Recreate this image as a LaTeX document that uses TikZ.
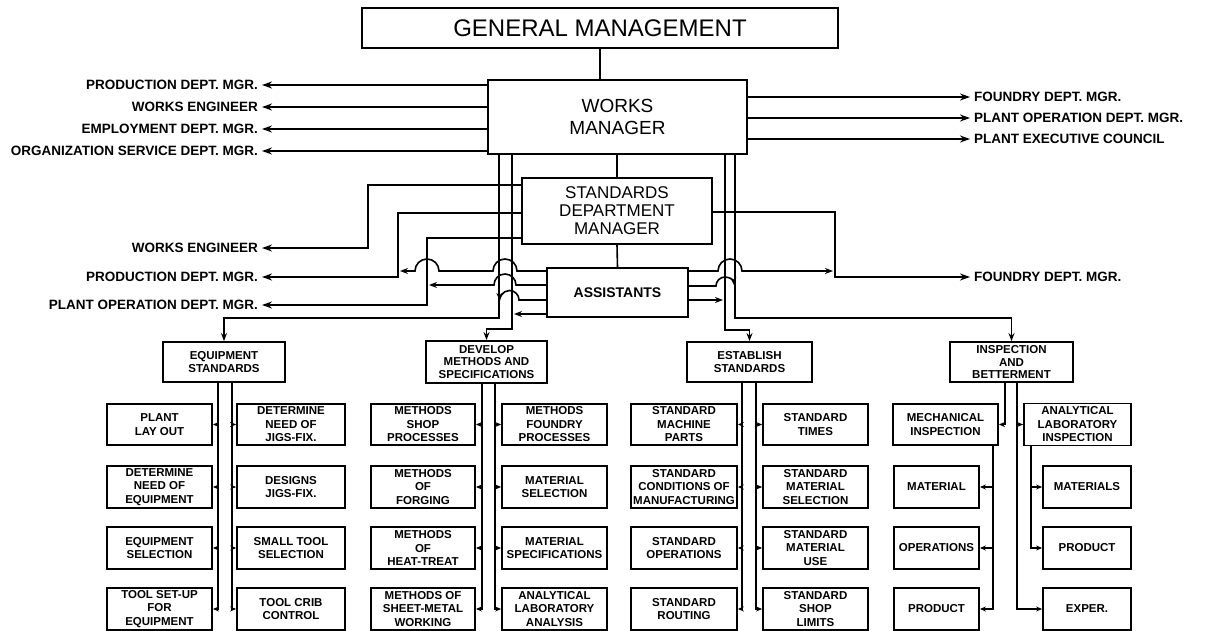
\documentclass[tikz,border=0pt]{standalone}
\usepackage{fontspec}
\setmainfont{Liberation Sans}
\usetikzlibrary{arrows.meta}
\begin{document}
\begin{tikzpicture}[x=1pt,y=1pt,
 box/.style={draw,line width=1.8pt,inner sep=0pt,align=center},
 sbox/.style={box,font=\fontsize{11.5}{13.5}\selectfont\bfseries},
 gbox/.style={box,font=\fontsize{11.5}{12.5}\selectfont\bfseries},
 conn/.style={line width=1.6pt},
 bigarr/.style={-{Stealth[length=10pt,width=7pt]}},
 midarr/.style={-{Stealth[length=8pt,width=6pt]}},
 arr/.style={-{Stealth[length=6pt,width=5pt]}},
 lab/.style={inner sep=0pt,inner xsep=4pt,font=\fontsize{13.5}{15}\selectfont\bfseries},
]
\useasboundingbox (0,0) rectangle (1213,-631);

% top boxes
\node[box,minimum width=476pt,minimum height=40pt,font=\fontsize{24}{26}\selectfont] (gm) at (600,-28) {GENERAL MANAGEMENT};
\node[box,minimum width=259pt,minimum height=74pt,font=\fontsize{19}{22}\selectfont] (wm) at (617.5,-117) {WORKS\\MANAGER};
\node[box,minimum width=190pt,minimum height=66pt,font=\fontsize{17}{18}\selectfont] (sdm) at (617,-211) {STANDARDS\\DEPARTMENT\\MANAGER};
\node[box,minimum width=141pt,minimum height=49pt,font=\fontsize{14}{16}\selectfont\bfseries] (asst) at (617.5,-292.5) {ASSISTANTS};

\draw[conn] (gm.south) -- (gm.south |- wm.north);
\draw[conn] (sdm.north) -- (sdm.north |- wm.south);
\draw[conn] (sdm.south) -- (asst.north);

% works manager side labels
\node[lab,anchor=east] (pd1) at (262,-85) {PRODUCTION DEPT. MGR.};
\node[lab,anchor=east] (we1) at (262,-107) {WORKS ENGINEER};
\node[lab,anchor=east] (em1) at (262,-129) {EMPLOYMENT DEPT. MGR.};
\node[lab,anchor=east] (os1) at (262,-151) {ORGANIZATION SERVICE DEPT. MGR.};
\node[lab,anchor=west] (fd1) at (970,-97) {FOUNDRY DEPT. MGR.};
\node[lab,anchor=west] (po1) at (970,-118) {PLANT OPERATION DEPT. MGR.};
\node[lab,anchor=west] (pe1) at (970,-139) {PLANT EXECUTIVE COUNCIL};
\foreach \n in {pd1,we1,em1,os1} \draw[conn,bigarr] (wm.west |- \n) -- (\n.east);
\foreach \n in {fd1,po1,pe1} \draw[conn,bigarr] (wm.east |- \n) -- (\n.west);

% standards dept side labels
\node[lab,anchor=east] (we2) at (262,-248) {WORKS ENGINEER};
\node[lab,anchor=east] (pd2) at (262,-277) {PRODUCTION DEPT. MGR.};
\node[lab,anchor=east] (po2) at (262,-305) {PLANT OPERATION DEPT. MGR.};
\node[lab,anchor=west] (fd2) at (970,-277) {FOUNDRY DEPT. MGR.};
\draw[conn,bigarr] ([yshift=26pt]sdm.west) -| (368,-248) -- (we2.east);
\draw[conn,bigarr] ([yshift=-2pt]sdm.west) -| (398,-277) -- (pd2.east);
\draw[conn,bigarr] ([yshift=-27pt]sdm.west) -| (427,-305) -- (po2.east);
\draw[conn,bigarr] ([yshift=-1pt]sdm.east) -| (835,-277) -- (fd2.west);

% group boxes
\node[gbox,minimum width=122pt,minimum height=40pt] (eq) at (224,-362) {EQUIPMENT\\STANDARDS};
\node[gbox,minimum width=121pt,minimum height=42pt] (dev) at (486.5,-362) {DEVELOP\\METHODS AND\\SPECIFICATIONS};
\node[gbox,minimum width=125pt,minimum height=40pt] (est) at (749.5,-362) {ESTABLISH\\STANDARDS};
\node[gbox,minimum width=123pt,minimum height=40pt] (insp) at (1011.5,-362) {INSPECTION\\AND\\BETTERMENT};

% vertical lines from works manager
\coordinate (v1) at ([xshift=-118.5pt]wm.south);
\coordinate (v2) at ([xshift=-105.5pt]wm.south);
\coordinate (v3) at ([xshift=107.5pt]wm.south);
\coordinate (v4) at ([xshift=117.5pt]wm.south);
\draw[conn,midarr] (v1) |- ([yshift=23pt]eq.north) -- (eq.north);
\draw[conn,midarr] (v2) |- ([yshift=11pt]dev.north) -- (dev.north);
\draw[conn,midarr] (v3) |- ([yshift=11pt]est.north) -- (est.north);
\draw[conn,midarr] (v4) |- ([yshift=23pt]insp.north) -- (insp.north);

% assistants lines (left)
\draw[conn,midarr] ([yshift=21.5pt]asst.west) -- (517,-271) arc[start angle=0,end angle=180,radius=12pt] -- (439,-271) arc[start angle=0,end angle=180,radius=12pt] -- (400,-271);
\draw[conn,midarr] ([yshift=7.5pt]asst.west) -- (516,-285) arc[start angle=0,end angle=180,radius=11pt] -- (429,-285);
\draw[conn,midarr] ([yshift=-7.5pt]asst.west) -- (519,-300) arc[start angle=0,end angle=185,radius=9.5pt];
\draw[conn,midarr] ([yshift=-21.5pt]asst.west) -- (514,-314);
% assistants lines (right)
\draw[conn,midarr] ([yshift=21.5pt]asst.east) -- (718,-271) arc[start angle=180,end angle=0,radius=12pt] -- (833,-271);
\draw[conn,midarr] ([yshift=6.5pt]asst.east) -- (716,-286) arc[start angle=180,end angle=5,radius=9pt];
\draw[conn,midarr] ([yshift=-7.5pt]asst.east) -- (723,-300);

% equipment column
\node[sbox,minimum width=105pt,minimum height=41pt] (eqL1) at (159.5,-424.5) {PLANT\\LAY OUT};
\node[sbox,minimum width=105pt,minimum height=42pt] (eqL2) at (159.5,-487) {DETERMINE\\NEED OF\\EQUIPMENT};
\node[sbox,minimum width=105pt,minimum height=42pt] (eqL3) at (159.5,-548) {EQUIPMENT\\SELECTION};
\node[sbox,minimum width=105pt,minimum height=42pt] (eqL4) at (159.5,-609) {TOOL SET-UP\\FOR\\EQUIPMENT};
\node[sbox,minimum width=108pt,minimum height=41pt] (eqR1) at (291,-424.5) {DETERMINE\\NEED OF\\JIGS-FIX.};
\node[sbox,minimum width=108pt,minimum height=42pt] (eqR2) at (291,-487) {DESIGNS\\JIGS-FIX.};
\node[sbox,minimum width=108pt,minimum height=42pt] (eqR3) at (291,-548) {SMALL TOOL\\SELECTION};
\node[sbox,minimum width=108pt,minimum height=42pt] (eqR4) at (291,-609) {TOOL CRIB\\CONTROL};
\coordinate (eL) at ([xshift=-6pt]eq.south);
\coordinate (eR) at ([xshift=8pt]eq.south);
\draw[conn,arr] (eL) |- (eqL4.east);
\draw[conn,arr] (eR) |- (eqR4.west);
\foreach \i in {1,2,3} {
  \draw[conn,arr] (eqL\i.east -| eL) -- (eqL\i.east);
  \draw[conn,arr] (eqR\i.west -| eR) -- (eqR\i.west);
}

% develop column
\node[sbox,minimum width=104pt,minimum height=41pt] (dvL1) at (423,-424.5) {METHODS\\SHOP\\PROCESSES};
\node[sbox,minimum width=104pt,minimum height=42pt] (dvL2) at (423,-487) {METHODS\\OF\\FORGING};
\node[sbox,minimum width=104pt,minimum height=42pt] (dvL3) at (423,-548) {METHODS\\OF\\HEAT-TREAT};
\node[sbox,minimum width=104pt,minimum height=42pt] (dvL4) at (423,-609) {METHODS OF\\SHEET-METAL\\WORKING};
\node[sbox,minimum width=105pt,minimum height=41pt] (dvR1) at (554.5,-424.5) {METHODS\\FOUNDRY\\PROCESSES};
\node[sbox,minimum width=105pt,minimum height=42pt] (dvR2) at (554.5,-487) {MATERIAL\\SELECTION};
\node[sbox,minimum width=105pt,minimum height=42pt] (dvR3) at (554.5,-548) {MATERIAL\\SPECIFICATIONS};
\node[sbox,minimum width=105pt,minimum height=42pt] (dvR4) at (554.5,-609) {ANALYTICAL\\LABORATORY\\ANALYSIS};
\coordinate (dL) at ([xshift=-4.5pt]dev.south);
\coordinate (dR) at ([xshift=8.5pt]dev.south);
\draw[conn,arr] (dL) |- (dvL4.east);
\draw[conn,arr] (dR) |- (dvR4.west);
\foreach \i in {1,2,3} {
  \draw[conn,arr] (dvL\i.east -| dL) -- (dvL\i.east);
  \draw[conn,arr] (dvR\i.west -| dR) -- (dvR\i.west);
}

% establish column
\node[sbox,minimum width=106pt,minimum height=41pt] (stL1) at (684,-424.5) {STANDARD\\MACHINE\\PARTS};
\node[sbox,minimum width=106pt,minimum height=42pt] (stL2) at (684,-487) {STANDARD\\CONDITIONS OF\\MANUFACTURING};
\node[sbox,minimum width=106pt,minimum height=42pt] (stL3) at (684,-548) {STANDARD\\OPERATIONS};
\node[sbox,minimum width=106pt,minimum height=42pt] (stL4) at (684,-609) {STANDARD\\ROUTING};
\node[sbox,minimum width=105pt,minimum height=41pt] (stR1) at (815.5,-424.5) {STANDARD\\TIMES};
\node[sbox,minimum width=105pt,minimum height=42pt] (stR2) at (815.5,-487) {STANDARD\\MATERIAL\\SELECTION};
\node[sbox,minimum width=105pt,minimum height=42pt] (stR3) at (815.5,-548) {STANDARD\\MATERIAL\\USE};
\node[sbox,minimum width=105pt,minimum height=42pt] (stR4) at (815.5,-609) {STANDARD\\SHOP\\LIMITS};
\coordinate (sL) at ([xshift=-7.5pt]est.south);
\coordinate (sR) at ([xshift=6.5pt]est.south);
\draw[conn,arr] (sL) |- (stL4.east);
\draw[conn,arr] (sR) |- (stR4.west);
\foreach \i in {1,2,3} {
  \draw[conn,arr] (stL\i.east -| sL) -- (stL\i.east);
  \draw[conn,arr] (stR\i.west -| sR) -- (stR\i.west);
}

% inspection column
\node[sbox,minimum width=105pt,minimum height=41pt] (inL1) at (945.5,-424.5) {MECHANICAL\\INSPECTION};
\node[sbox,minimum width=85pt,minimum height=42pt] (inL2) at (936.5,-487) {MATERIAL};
\node[sbox,minimum width=85pt,minimum height=42pt] (inL3) at (936.5,-548) {OPERATIONS};
\node[sbox,minimum width=85pt,minimum height=42pt] (inL4) at (936.5,-609) {PRODUCT};
\node[sbox,minimum width=107pt,minimum height=42pt] (inR1) at (1077.5,-424.5) {ANALYTICAL\\LABORATORY\\INSPECTION};
\node[sbox,minimum width=88pt,minimum height=42pt] (inR2) at (1087,-487) {MATERIALS};
\node[sbox,minimum width=88pt,minimum height=42pt] (inR3) at (1087,-548) {PRODUCT};
\node[sbox,minimum width=88pt,minimum height=42pt] (inR4) at (1087,-609) {EXPER.};
\coordinate (iL) at ([xshift=-6.5pt]insp.south);
\coordinate (iR) at ([xshift=5.5pt]insp.south);
\draw[conn,arr] (iL) |- (inL1.east);
\draw[conn,arr] (iR) |- (inR4.west);
\draw[conn,arr] (inR1.west -| iR) -- (inR1.west);
\coordinate (mL) at ([xshift=47.5pt]inL1.south);
\draw[conn,arr] (mL) |- (inL4.east);
\foreach \i in {2,3} \draw[conn,arr] (inL\i.east -| mL) -- (inL\i.east);
\coordinate (aR) at ([xshift=-46.5pt]inR1.south);
\draw[conn,arr] (aR) |- (inR3.west);
\draw[conn,arr] (inR2.west -| aR) -- (inR2.west);
\end{tikzpicture}
\end{document}
